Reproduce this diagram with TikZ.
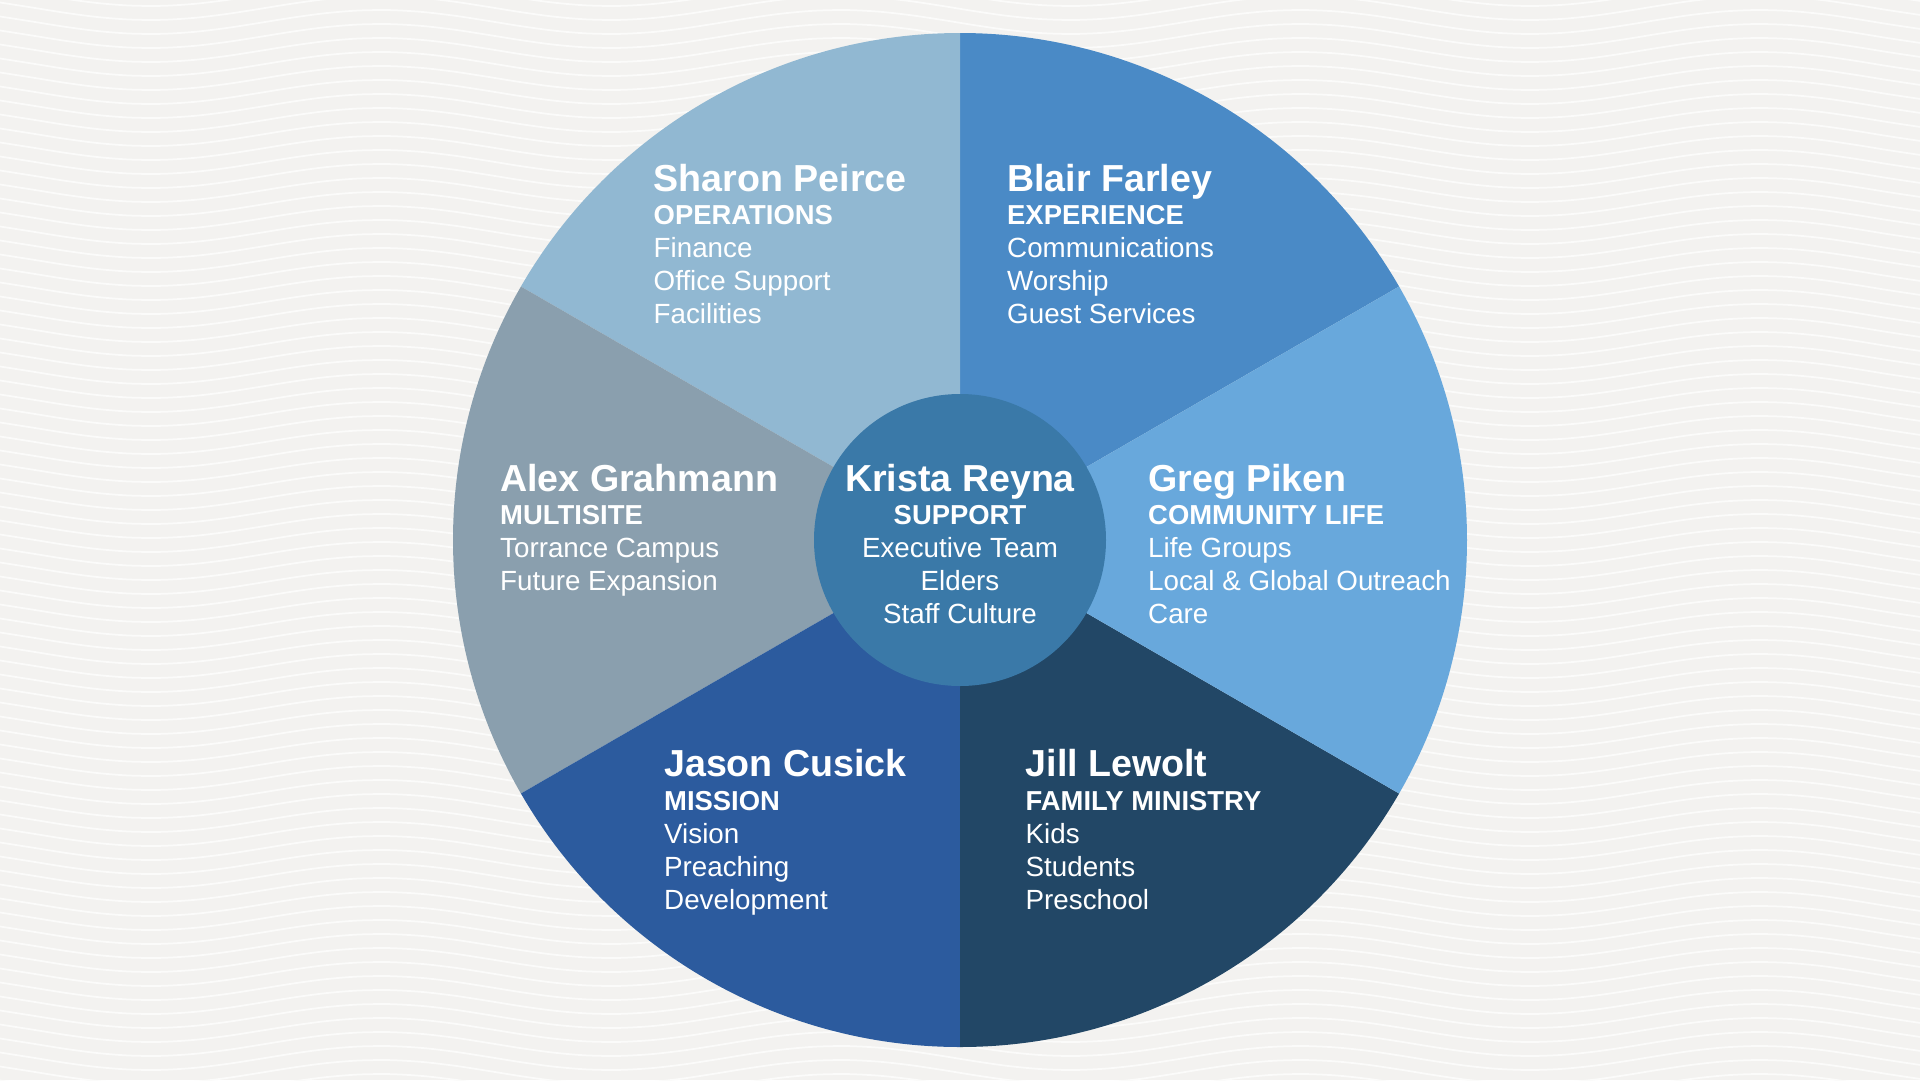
\documentclass[tikz,border=0pt]{standalone}
\usepackage{fontspec}
\setmainfont{Liberation Sans}
\usepackage{tikz}
\usetikzlibrary{positioning}

\definecolor{bgcol}{HTML}{F3F2F0}
\definecolor{opscol}{HTML}{91B8D2}
\definecolor{expcol}{HTML}{4A8AC6}
\definecolor{comcol}{HTML}{68A8DC}
\definecolor{famcol}{HTML}{224766}
\definecolor{miscol}{HTML}{2C5B9E}
\definecolor{mulcol}{HTML}{8A9FAE}
\definecolor{supcol}{HTML}{3A79A8}

\newcommand{\pname}[1]{{\fontsize{10.7}{9.4}\selectfont\bfseries #1}}
\newcommand{\pdept}[1]{{\fontsize{7.8}{9.4}\selectfont\bfseries #1}}

\begin{document}
\begin{tikzpicture}[x=0.1mm, y=0.1mm,
    group/.style={text=white, inner sep=0pt, align=left, anchor=north west, font=\fontsize{7.9}{9.4}\selectfont},
    wave/.style={draw=white!70!bgcol, line width=0.5pt}]

    % Fondo
    \fill[bgcol] (0,0) rectangle (1920,1080);
    \useasboundingbox (0,0) rectangle (1920,1080);
    \foreach \k in {0,...,80}
        \draw[wave] plot[domain=0:1920, samples=60, smooth] (\x, {\k*14 - 20 - 12*cos(360/460*(\x-150))});

    % Sectores
    \coordinate (O) at (960,540);
    \fill[expcol] (O) -- ++(30:507) arc[start angle=30, end angle=90, radius=507] -- cycle;
    \fill[opscol] (O) -- ++(90:507) arc[start angle=90, end angle=150, radius=507] -- cycle;
    \fill[mulcol] (O) -- ++(150:507) arc[start angle=150, end angle=210, radius=507] -- cycle;
    \fill[miscol] (O) -- ++(210:507) arc[start angle=210, end angle=270, radius=507] -- cycle;
    \fill[famcol] (O) -- ++(270:507) arc[start angle=270, end angle=330, radius=507] -- cycle;
    \fill[comcol] (O) -- ++(-30:507) arc[start angle=-30, end angle=30, radius=507] -- cycle;

    % Centro
    \node[circle, fill=supcol, inner sep=0pt, minimum size=29.2mm] (core) at (O) {};

    % Nodos
    \node[group] (sharon) at (653,916.5) {\pname{Sharon Peirce}\\\pdept{OPERATIONS}\\Finance\\Office Support\\Facilities};
    \node[group] (blair) at (1006.5,916.5) {\pname{Blair Farley}\\\pdept{EXPERIENCE}\\Communications\\Worship\\Guest Services};
    \node[group] (alex) at (499.5,616.5) {\pname{Alex Grahmann}\\\pdept{MULTISITE}\\Torrance Campus\\Future Expansion};
    \node[group, align=center, anchor=north] (krista) at (960,616.5) {\pname{Krista Reyna}\\\pdept{SUPPORT}\\Executive Team\\Elders\\Staff Culture};
    \node[group] (greg) at (1147.5,616.5) {\pname{Greg Piken}\\\pdept{COMMUNITY LIFE}\\Life Groups\\Local \& Global Outreach\\Care};
    \node[group] (jason) at (663.5,331) {\pname{Jason Cusick}\\\pdept{MISSION}\\Vision\\Preaching\\Development};
    \node[group] (jill) at (1025,331) {\pname{Jill Lewolt}\\\pdept{FAMILY MINISTRY}\\Kids\\Students\\Preschool};

\end{tikzpicture}
\end{document}
